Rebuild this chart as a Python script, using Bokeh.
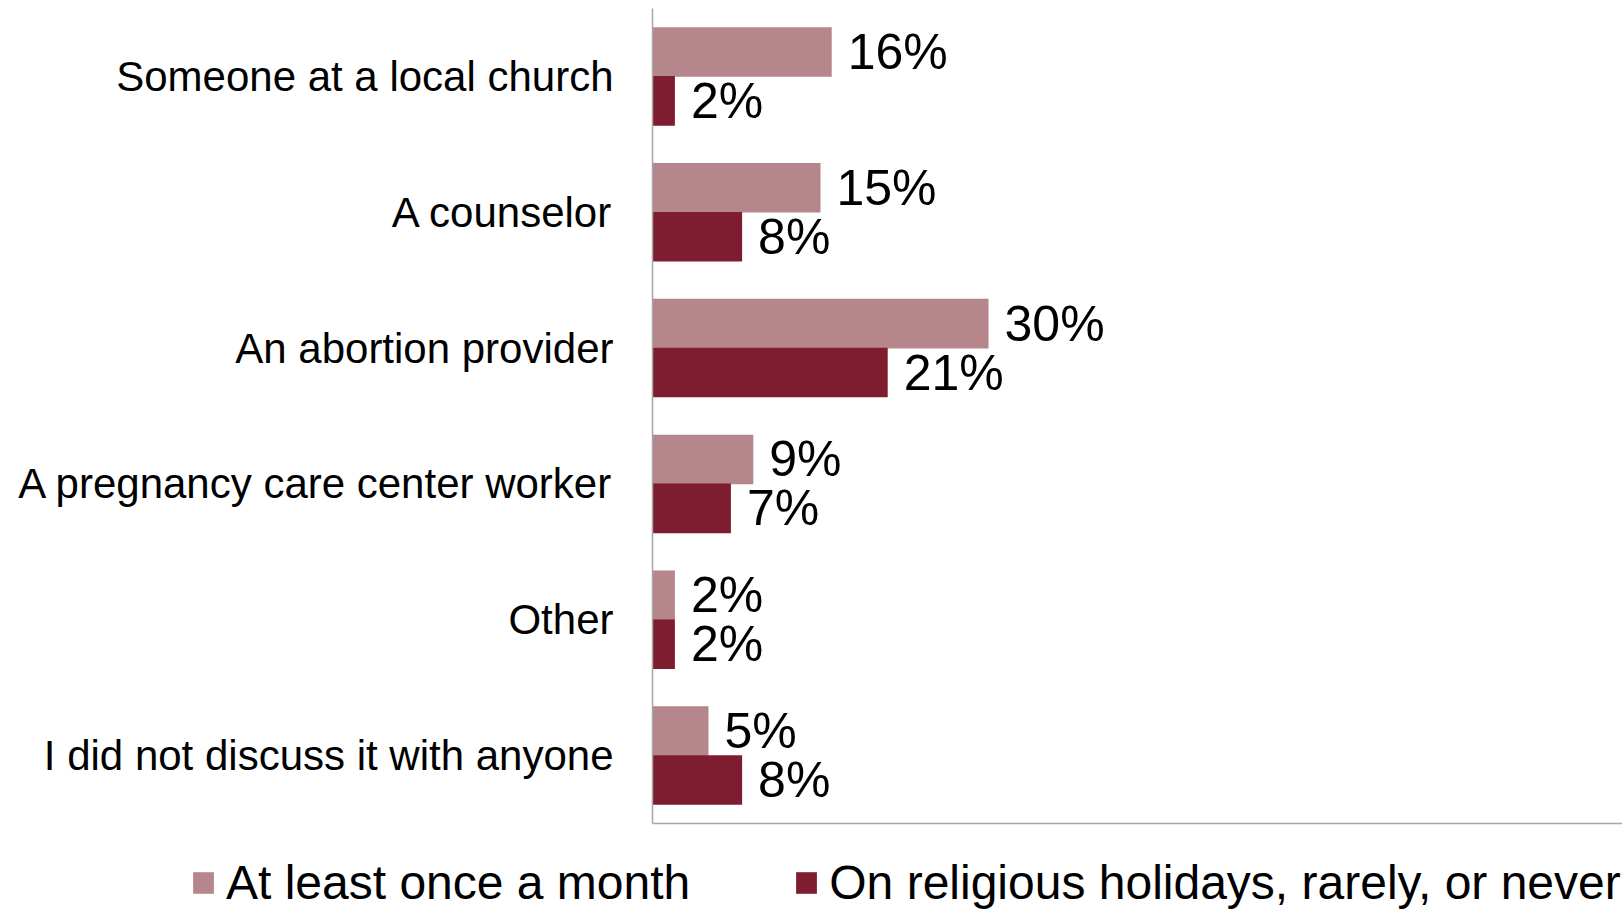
from bokeh.plotting import figure
from bokeh.layouts import column
from bokeh.models import ColumnDataSource, FactorRange, Range1d, LabelSet, Legend, LegendItem, FixedTicker
from bokeh.transform import dodge
from bokeh.core.properties import value
from bokeh.embed import file_html
from bokeh.resources import INLINE

categories = ["Someone at a local church", "A counselor", "An abortion provider",
              "A pregnancy care center worker", "Other", "I did not discuss it with anyone"]
monthly = [16, 15, 30, 9, 2, 5]
rarely = [2, 8, 21, 7, 2, 8]
series_names = ["At least once a month", "On religious holidays, rarely, or never"]
colors = ["#B5868B", "#7F1D30"]

FONT = "Liberation Sans"

src = ColumnDataSource(dict(
    cat=categories,
    monthly=monthly,
    rarely=rarely,
    monthly_lbl=[f"{v}%" for v in monthly],
    rarely_lbl=[f"{v}%" for v in rarely],
))

# ---- main chart ----
p = figure(width=1622, height=830, output_backend="svg", toolbar_location=None,
           y_range=FactorRange(factors=list(reversed(categories)), range_padding=0),
           x_range=Range1d(0, 86.6),
           min_border_left=652, min_border_right=0, min_border_top=8, min_border_bottom=7)

p.hbar(y=dodge("cat", 0.18, range=p.y_range), right="monthly", left=0, height=0.365,
       source=src, fill_color=colors[0], line_color=None)
p.hbar(y=dodge("cat", -0.18, range=p.y_range), right="rarely", left=0, height=0.365,
       source=src, fill_color=colors[1], line_color=None)

for col, lbl, off in [("monthly", "monthly_lbl", 0.18), ("rarely", "rarely_lbl", -0.18)]:
    ls = LabelSet(x=col, y=dodge("cat", off, range=p.y_range), text=lbl, source=src,
                  x_offset=16, text_baseline="middle", text_align="left",
                  text_font=value(FONT), text_font_size="50px", text_color="black")
    p.add_layout(ls)

p.outline_line_color = None
p.grid.grid_line_color = None
p.background_fill_color = "white"
p.border_fill_color = "white"

p.yaxis.axis_line_color = "#A6A6A6"
p.yaxis.axis_line_width = 1.5
p.yaxis.major_tick_line_color = None
p.yaxis.minor_tick_line_color = None
p.yaxis.major_tick_out = 0
p.yaxis.major_label_standoff = 39
p.yaxis.major_label_text_font = FONT
p.yaxis.major_label_text_font_size = "42px"
p.yaxis.major_label_text_color = "black"

p.xaxis.ticker = FixedTicker(ticks=[])
p.xaxis.axis_line_color = "#A6A6A6"
p.xaxis.axis_line_width = 1.5
p.xaxis.major_tick_line_color = None
p.xaxis.minor_tick_line_color = None
p.xaxis.major_tick_out = 0
p.xaxis.major_label_standoff = 0
p.xaxis.axis_label_standoff = 0

# ---- legend strip ----
lg = figure(width=1622, height=82, output_backend="svg", toolbar_location=None,
            x_range=Range1d(0, 1), y_range=Range1d(0, 1),
            min_border_left=0, min_border_right=0, min_border_top=0, min_border_bottom=0)
lg.axis.visible = False
lg.grid.grid_line_color = None
lg.outline_line_color = None
proxy = ColumnDataSource(dict(y=[float("nan")], right=[float("nan")]))
k1 = lg.hbar(y="y", right="right", height=1, source=proxy, fill_color=colors[0], line_color=None)
k2 = lg.hbar(y="y", right="right", height=1, source=proxy, fill_color=colors[1], line_color=None)

for fig in (p, lg):
    try:
        fig.frame_align = False
    except Exception:
        pass

legend = Legend(items=[LegendItem(label=series_names[0], renderers=[k1]),
                       LegendItem(label=series_names[1], renderers=[k2])],
                orientation="horizontal", location=(190, 2),
                glyph_width=26, glyph_height=27, label_standoff=10, spacing=103,
                padding=0, margin=0, border_line_color=None, background_fill_alpha=0,
                label_text_font=FONT, label_text_font_size="48px", label_text_color="black")
lg.add_layout(legend, "center")

layout = column(p, lg, spacing=0)
open("out.html", "w").write(file_html(layout, INLINE))
